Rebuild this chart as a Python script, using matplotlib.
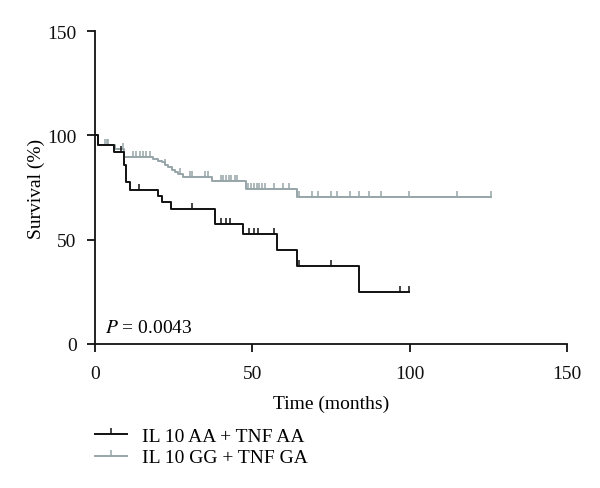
import numpy as np
import matplotlib
matplotlib.use("Agg")
import matplotlib.pyplot as plt
from matplotlib.lines import Line2D

# Kaplan-Meier steps (months, survival %)
aa_times = [0, 1.1, 6.1, 9.3, 9.85, 11.1, 20.1, 21.2, 24.2, 38.1, 47.1, 58.0, 64.1, 84.0]
aa_surv = [100, 95.5, 92.2, 85.9, 77.5, 73.9, 70.8, 67.9, 64.7, 57.4, 52.7, 45.0, 37.5, 24.8]
aa_censor = [8.2, 14.1, 31.0, 40.0, 41.6, 42.9, 49.0, 50.7, 51.9, 57.0, 64.9, 75.0, 96.9, 99.9]
aa_end = 99.9

gg_times = [0, 1.0, 6.3, 9.2, 18.5, 20.1, 21.2, 22.2, 23.3, 24.4, 25.4, 26.5, 28.1,
            37.3, 48.0, 64.1]
gg_surv = [100, 95.5, 93.4, 89.7, 88.6, 87.8, 87.1, 85.9, 84.7, 83.5, 82.6, 81.5, 79.9,
           78.0, 74.3, 70.3]
gg_censor = [3.1, 3.8, 4.3, 8.8, 12.1, 13.1, 14.2, 15.3, 16.3, 17.4, 22.3, 27.0, 30.4,
             31.0, 35.0, 36.0, 40.0, 40.8, 41.6, 42.6, 43.4, 44.5, 45.2, 48.7, 49.6,
             50.5, 51.4, 52.2, 53.2, 54.0, 57.0, 59.8, 61.7, 65.0, 69.1, 71.0, 75.0,
             77.0, 81.0, 84.0, 87.0, 91.0, 99.9, 114.9, 125.7]
gg_end = 125.7

labels = ["IL 10 AA + TNF AA", "IL 10 GG + TNF GA"]
BLACK = "#111111"
GRAY = "#97a5a9"

plt.rcParams["font.family"] = ["Liberation Serif", "DejaVu Serif"]
plt.rcParams["mathtext.fontset"] = "stix"


def km_curve(ax, times, surv, censor, end, color):
    t = np.append(times, end)
    s = np.append(surv, surv[-1])
    ax.step(t, s, where="post", color=color, lw=1.4, zorder=3)
    idx = np.searchsorted(times, censor, side="right") - 1
    cs = np.asarray(surv)[idx]
    ax.plot(censor, cs, ls="none", marker=2, ms=4.5, mew=1.1, color=color, zorder=3)


fig = plt.figure(figsize=(6.0, 4.89), dpi=100)
ax = fig.add_axes([0.158, 0.2945, 0.787, 0.640])

km_curve(ax, gg_times, gg_surv, gg_censor, gg_end, GRAY)
km_curve(ax, aa_times, aa_surv, aa_censor, aa_end, BLACK)

ax.set_xlim(0, 150)
ax.set_ylim(0, 150)
ax.set_xticks([0, 50, 100, 150])
ax.set_yticks([0, 50, 100, 150])
for side in ["top", "right"]:
    ax.spines[side].set_visible(False)
for side in ["left", "bottom"]:
    ax.spines[side].set_linewidth(1.3)
    ax.spines[side].set_color(BLACK)
ax.tick_params(direction="out", length=6, width=1.3, labelsize=14, colors=BLACK)
ax.tick_params(axis="x", pad=9)
ax.tick_params(axis="y", pad=7)
ax.set_xlabel("Time (months)", fontsize=14, labelpad=9)
ax.set_ylabel("Survival (%)", fontsize=14, labelpad=2)

ax.text(3.2, 8, r"$P$ = 0.0043", fontsize=14, va="center", ha="left")

handles = [Line2D([], [], color=BLACK, lw=1.4, marker=2, ms=4.5, mew=1.1),
           Line2D([], [], color=GRAY, lw=1.4, marker=2, ms=4.5, mew=1.1)]
fig.legend(handles, labels, loc="upper left", bbox_to_anchor=(0.158, 0.124),
           frameon=False, fontsize=14, numpoints=1, handlelength=1.65,
           handletextpad=0.8, labelspacing=0.2, borderaxespad=0, borderpad=0)

fig.savefig("out.png", dpi=100)
